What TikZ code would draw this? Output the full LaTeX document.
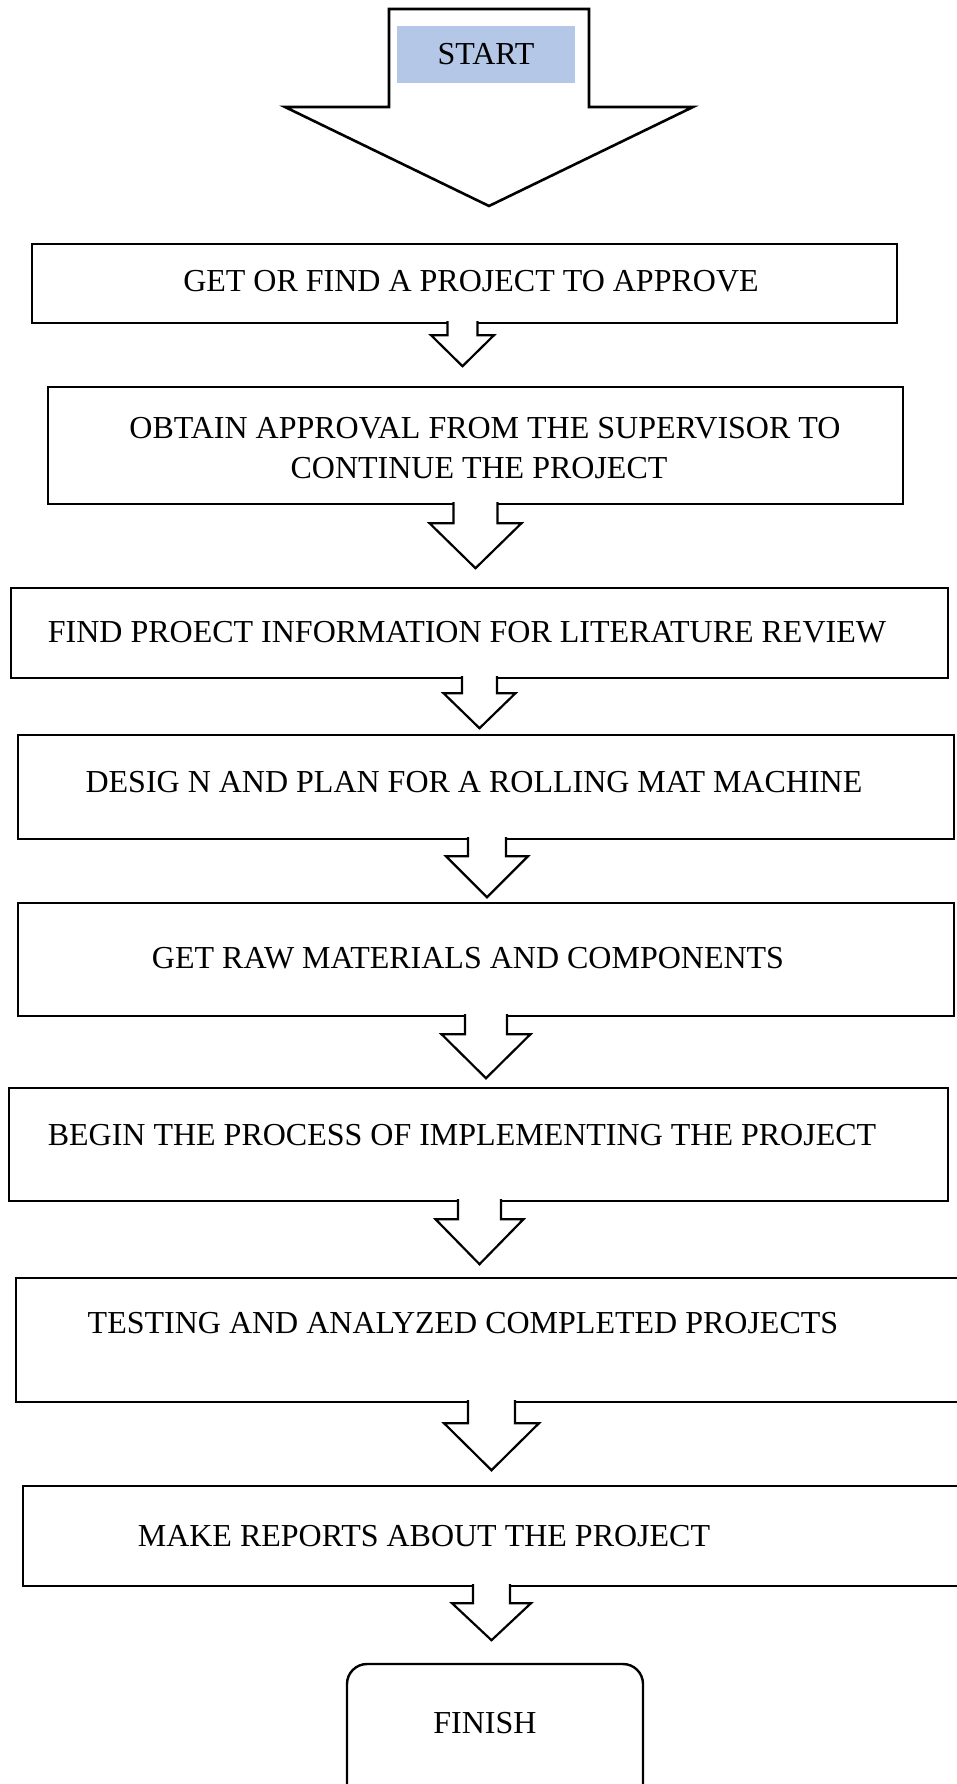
\documentclass[tikz,border=0pt]{standalone}
\usepackage{fontspec}
\setmainfont{Liberation Serif}
\usetikzlibrary{calc}
\definecolor{startblue}{HTML}{B4C7E7}

% A hollow down-arrow hanging from the bottom edge of a box.
% #1 box, #2 x offset, #3 shaft half width, #4 shoulder drop, #5 head half width, #6 head length
\newcommand\stepdown[6]{%
  \draw[flowline, fill=white]
    ($(#1.south)+(#2-#3,-3)$) -- ++(0,#4+3) -- ++(#3-#5,0)
    -- ++(#5,#6) -- ++(#5,-#6) -- ++(#3-#5,0) -- ++(0,-#4-3);
}

\begin{document}
\begin{tikzpicture}[x=1pt, y=-1pt,
  flowline/.style={line width=2.2pt, line join=miter},
  stepbox/.style={draw, line width=2.4pt, rectangle, inner sep=0pt},
  steptext/.style={anchor=base, inner sep=0pt, font=\fontsize{32}{38}\selectfont}]
\useasboundingbox (0,0) rectangle (957,1784);

% opening block arrow with the START tag
\draw[flowline, line width=2.6pt] (389,9) -- (589,9) -- (589,107) -- (693,107)
  -- (489,206) -- (285,107) -- (389,107) -- cycle;
\node[fill=startblue, minimum width=178pt, minimum height=57pt, inner sep=0pt] (start) at (486,54.5) {};
\node[steptext] (tstart) at (486,65) {START};

% process steps
\node[stepbox, minimum width=865pt, minimum height=79pt]  (b1) at (464.5,283.5) {};
\node[stepbox, minimum width=855pt, minimum height=117pt] (b2) at (475.5,445.5) {};
\node[stepbox, minimum width=937pt, minimum height=90pt]  (b3) at (479.5,633) {};
\node[stepbox, minimum width=936pt, minimum height=104pt] (b4) at (486,787) {};
\node[stepbox, minimum width=936pt, minimum height=113pt] (b5) at (486,959.5) {};
\node[stepbox, minimum width=939pt, minimum height=113pt] (b6) at (478.5,1144.5) {};
\node[stepbox, minimum width=950pt, minimum height=124pt] (b7) at (491,1340) {};
\node[stepbox, minimum width=939pt, minimum height=100pt] (b8) at (492.5,1536) {};
\node[stepbox, rounded corners=20pt, minimum width=296pt, minimum height=146pt] (finish) at (495,1737) {};

% step labels
\node[steptext] (t1)  at (471,292)  {GET OR FIND A PROJECT TO APPROVE};
\node[steptext] (t2a) at (485,438)  {OBTAIN APPROVAL FROM THE SUPERVISOR TO};
\node[steptext] (t2b) at (479,478)  {CONTINUE THE PROJECT};
\node[steptext] (t3)  at (467,642)  {FIND PROECT INFORMATION FOR LITERATURE REVIEW};
\node[steptext] (t4)  at (474,792)  {DESIG N AND PLAN FOR A ROLLING MAT MACHINE};
\node[steptext] (t5)  at (468,968)  {GET RAW MATERIALS AND COMPONENTS};
\node[steptext] (t6)  at (462,1145) {BEGIN THE PROCESS OF IMPLEMENTING THE PROJECT};
\node[steptext] (t7)  at (463,1333) {TESTING AND ANALYZED COMPLETED PROJECTS};
\node[steptext] (t8)  at (424,1546) {MAKE REPORTS ABOUT THE PROJECT};
\node[steptext] (tf)  at (485,1733) {FINISH};

% arrows between steps
\stepdown{b1}{-2}{15}{11}{31.5}{31}
\stepdown{b2}{0}{22}{18}{46}{45}
\stepdown{b3}{0}{17.5}{14}{36}{35}
\stepdown{b4}{1}{19}{16}{41}{41}
\stepdown{b5}{0}{21}{17}{44.5}{44}
\stepdown{b6}{1}{21.5}{17}{44}{45}
\stepdown{b7}{0.5}{23.5}{20}{47.5}{47}
\stepdown{b8}{-1}{18.5}{16}{39.5}{37}
\end{tikzpicture}
\end{document}
